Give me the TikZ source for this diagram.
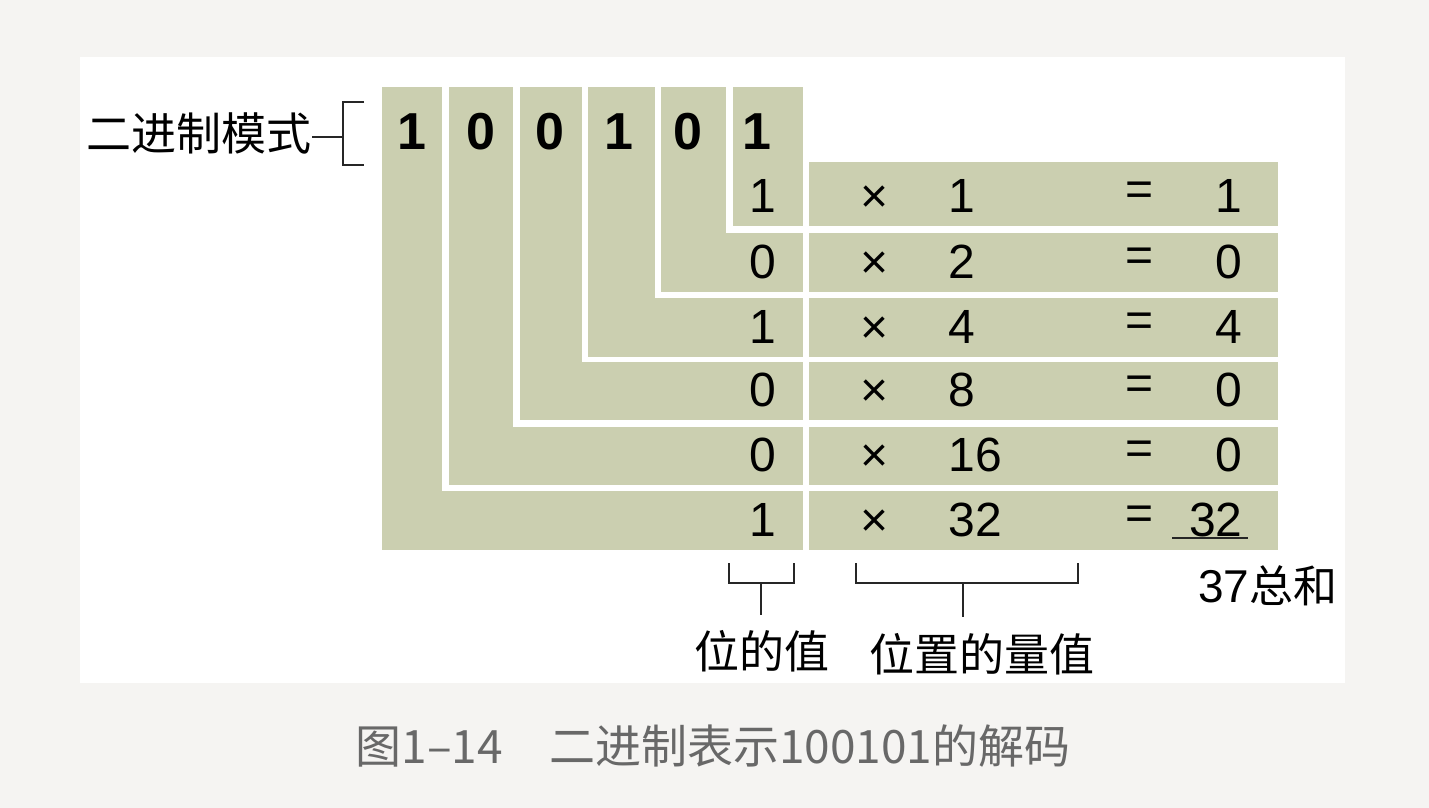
\documentclass[tikz,border=0pt]{standalone}
\usepackage{fontspec}
\setmainfont{Liberation Sans}
\newfontfamily\cjk{Noto Sans CJK SC}
\definecolor{sage}{RGB}{203,207,176}
\definecolor{pagebg}{RGB}{245,244,242}
\definecolor{capgray}{RGB}{104,104,104}
\tikzset{
  bitnum/.style={inner sep=0pt, font=\fontsize{26}{26}\selectfont\bfseries},
  cellnum/.style={inner sep=0pt, anchor=base, font=\fontsize{24}{24}\selectfont},
  cjklabel/.style={inner sep=0pt, font=\fontsize{22.5}{22.5}\selectfont\cjk},
  brk/.style={line width=1pt, black!85}
}
\begin{document}
\begin{tikzpicture}[x=0.5pt, y=-0.5pt]
    \fill[pagebg] (0,0) rectangle (1429,808);
    \fill[white] (80,57) rectangle (1345,683);
    % stair of bit columns
    \foreach \k/\xl/\xr/\yt/\yb/\b in {
      1/382/442/491/550/1,
      2/449/513/427/485/0,
      3/520/582/362/420/0,
      4/588/655/298/357/1,
      5/661/726/233/292/0,
      6/733/803/162/226/1}
      {
        \fill[sage] (\xl,87) rectangle (\xr,\yb);
        \fill[sage] (\xl,\yt) rectangle (803,\yb);
        \node[bitnum] (top\k) at ({412+69*(\k-1)},132) {\b};
      }
    % rows: bit x weight = value
    \foreach \r/\yt/\yb/\b/\m/\p in {
      1/162/226/1/1/1,
      2/233/292/0/2/0,
      3/298/357/1/4/4,
      4/362/420/0/8/0,
      5/427/485/0/16/0,
      6/491/550/1/32/32}
      {
        \fill[sage] (809,\yt) rectangle (1278,\yb);
        \node[cellnum] (bit\r) at (763,\yb-14) {\b};
        \node[cellnum] (times\r) at (875,\yb-14) {×};
        \node[cellnum, anchor=base west] (wt\r) at (948,\yb-14) {\m};
        \node[cellnum] (eq\r) at (1140,\yb-21) {=};
        \node[cellnum, anchor=base east] (val\r) at (1243,\yb-14) {\p};
      }
    \draw[brk] (1172,538) -- (1248,538);
    \node[cellnum, anchor=base west, font=\fontsize{23}{23}\selectfont] (total) at (1198,602)
      {37{\cjk\fontsize{22}{22}\selectfont 总和}};
    % brackets and labels
    \node[cjklabel, anchor=east] (pattern) at (312,133) {二进制模式};
    \coordinate (pbk) at (343,137);
    \draw[brk] (pattern.east |- pbk) -- (pbk);
    \draw[brk] (364,102) -- (343,102) -- (343,165) -- (364,165);
    \node[cjklabel, anchor=north, outer ysep=7.5pt] (bitval) at (762,615) {位的值};
    \coordinate (bvb) at (761,583);
    \draw[brk] (729,563) -- (729,583) -- (794,583) -- (794,563);
    \draw[brk] (bvb) -- (bvb |- bitval.north);
    \node[cjklabel, anchor=north, outer ysep=8pt] (posval) at (982,617) {位置的量值};
    \coordinate (pvb) at (963,583);
    \draw[brk] (856,563) -- (856,583) -- (1078,583) -- (1078,563);
    \draw[brk] (pvb) -- (pvb |- posval.north);
    \node[inner sep=0pt, font=\fontsize{23}{23}\selectfont\cjk, text=capgray] (caption) at (713,746)
      {图1–14　二进制表示100101的解码};
\end{tikzpicture}
\end{document}
